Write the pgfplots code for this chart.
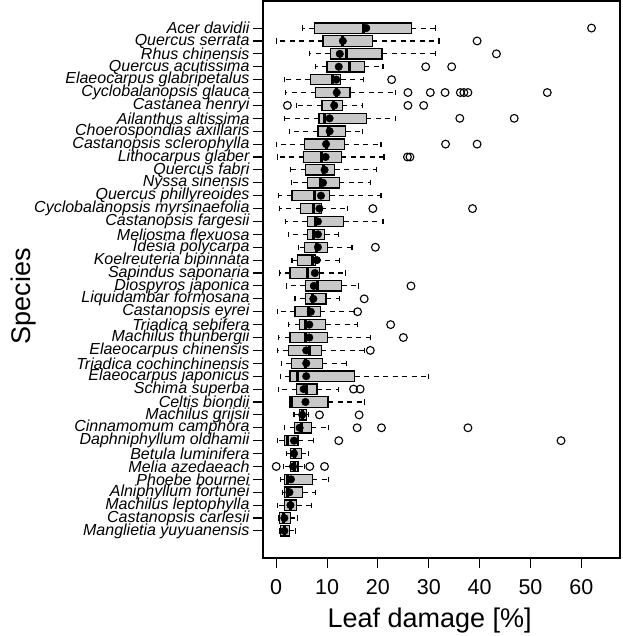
\documentclass[border=0pt]{standalone}
\usepackage{fontspec}
\setmainfont{Liberation Sans}
\usepackage{pgfplots}
\pgfplotsset{compat=1.18}
\usepgfplotslibrary{statistics}
\definecolor{boxgray}{RGB}{200,200,200}
\newcommand{\bp}[6]{\addplot[black, boxplot prepared={draw position=#1, lower whisker=#2, lower quartile=#3, median=#4, upper quartile=#5, upper whisker=#6}] coordinates {};}
\begin{document}
\begin{tikzpicture}
\begin{axis}[
  at={(0,0)}, anchor=south west,
  scale only axis, width=357pt, height=557pt,
  xmin=-2.6, xmax=67.6, ymin=-1.1, ymax=42.1,
  axis line style={line width=1.2pt},
  xtick={0,10,...,60}, ytick={1,...,40},
  xtick pos=lower, ytick pos=left,
  tick align=outside, major tick length=10pt,
  tick style={line width=1.1pt, black},
  /pgf/number format/assume math mode=true,
  xticklabel style={font=\fontsize{21.5}{24}\selectfont, yshift=-8pt},
  yticklabel style={font=\fontsize{16}{17}\selectfont\itshape},
  yticklabels={Manglietia yuyuanensis, Castanopsis carlesii, Machilus leptophylla, Alniphyllum fortunei, Phoebe bournei, Melia azedaeach, Betula luminifera, Daphniphyllum oldhamii, Cinnamomum camphora, Machilus grijsii, Celtis biondii, Schima superba, Elaeocarpus japonicus, Triadica cochinchinensis, Elaeocarpus chinensis, Machilus thunbergii, Triadica sebifera, Castanopsis eyrei, Liquidambar formosana, Diospyros japonica, Sapindus saponaria, Koelreuteria bipinnata, Idesia polycarpa, Meliosma flexuosa, Castanopsis fargesii, Cyclobalanopsis myrsinaefolia, Quercus phillyreoides, Nyssa sinensis, Quercus fabri, Lithocarpus glaber, Castanopsis sclerophylla, Choerospondias axillaris, Ailanthus altissima, Castanea henryi, Cyclobalanopsis glauca, Elaeocarpus glabripetalus, Quercus acutissima, Rhus chinensis, Quercus serrata, Acer davidii},
  xlabel={Leaf damage [\%]}, ylabel={Species},
  xlabel style={font=\fontsize{27}{30}\selectfont, at={(axis description cs:0.467,0)}, anchor=north, yshift=-46pt},
  ylabel style={font=\fontsize{27}{30}\selectfont, at={(axis description cs:-0.672,0.47)}, anchor=center, rotate=0},
  boxplot/draw direction=x,
  boxplot/box extend=0.8,
  boxplot/whisker extend=0.4,
  boxplot/every box/.style={draw=black, fill=boxgray, line width=1.2pt},
  boxplot/every median/.style={draw=black, line width=3pt},
  boxplot/draw/lower whisker/.code={%
    \draw[black, line width=1.1pt, dash pattern=on 5pt off 4.5pt] (boxplot cs:\pgfplotsboxplotvalue{lower quartile}) -- (boxplot cs:\pgfplotsboxplotvalue{lower whisker});
    \draw[black, line width=1.1pt] (boxplot whisker cs:\pgfplotsboxplotvalue{lower whisker},0) -- (boxplot whisker cs:\pgfplotsboxplotvalue{lower whisker},1);
  },
  boxplot/draw/upper whisker/.code={%
    \draw[black, line width=1.1pt, dash pattern=on 5pt off 4.5pt] (boxplot cs:\pgfplotsboxplotvalue{upper quartile}) -- (boxplot cs:\pgfplotsboxplotvalue{upper whisker});
    \draw[black, line width=1.1pt] (boxplot whisker cs:\pgfplotsboxplotvalue{upper whisker},0) -- (boxplot whisker cs:\pgfplotsboxplotvalue{upper whisker},1);
  },
]
% position, lower whisker, Q1, median, Q3, upper whisker
\bp{40}{5.1}{7.5}{17.2}{26.6}{31.3}
\bp{39}{0.0}{9.2}{13.1}{18.9}{32.0}
\bp{38}{6.6}{10.6}{13.9}{20.8}{31.3}
\bp{37}{7.7}{10.0}{14.4}{17.3}{21.0}
\bp{36}{1.7}{6.7}{11.0}{12.7}{17.1}
\bp{35}{1.8}{7.8}{11.8}{14.5}{23.5}
\bp{34}{4.0}{9.0}{11.2}{13.0}{17.0}
\bp{33}{1.7}{8.4}{9.5}{17.7}{23.5}
\bp{32}{2.6}{8.2}{10.3}{13.7}{17.0}
\bp{31}{0.0}{5.6}{9.8}{13.4}{20.6}
\bp{30}{0.2}{5.4}{9.0}{12.8}{21.2}
\bp{29}{2.8}{5.8}{9.2}{11.5}{19.7}
\bp{28}{3.0}{6.1}{8.7}{12.4}{18.6}
\bp{27}{0.4}{3.1}{7.5}{10.5}{20.6}
\bp{26}{0.65}{4.8}{7.4}{8.9}{14.0}
\bp{25}{1.8}{6.1}{7.7}{13.3}{21.0}
\bp{24}{2.5}{6.2}{7.4}{9.5}{12.2}
\bp{23}{4.3}{5.6}{8.0}{10.1}{14.9}
\bp{22}{3.1}{4.2}{7.1}{7.8}{12.4}
\bp{21}{0.65}{2.7}{6.1}{8.5}{13.6}
\bp{20}{2.0}{5.75}{8.2}{12.9}{16.2}
\bp{19}{3.7}{5.75}{7.1}{9.8}{12.5}
\bp{18}{0.2}{3.7}{6.4}{8.7}{15.4}
\bp{17}{2.5}{4.6}{5.75}{9.7}{15.9}
\bp{16}{0.5}{2.7}{5.75}{10.1}{18.6}
\bp{15}{0.3}{2.4}{6.6}{8.9}{17.3}
\bp{14}{1.0}{3.0}{5.75}{9.1}{13.9}
\bp{13}{0.85}{2.7}{4.25}{15.4}{29.9}
\bp{12}{0.5}{4.0}{5.9}{8.0}{12.3}
\bp{11}{2.6}{2.7}{3.0}{10.2}{17.3}
\bp{10}{3.5}{4.6}{5.1}{5.9}{6.3}
\bp{9}{1.6}{3.6}{5.0}{6.9}{10.2}
\bp{8}{0.2}{1.6}{2.2}{4.3}{7.4}
\bp{7}{2.0}{2.8}{3.5}{4.9}{6.4}
\bp{6}{1.5}{2.8}{3.5}{4.3}{5.6}
\bp{5}{0.85}{1.6}{2.3}{7.1}{10.2}
\bp{4}{1.2}{1.7}{2.3}{5.2}{7.8}
\bp{3}{0.2}{1.6}{2.9}{4.0}{6.9}
\bp{2}{0.5}{0.65}{1.5}{2.8}{4.25}
\bp{1}{0.65}{0.85}{1.6}{2.6}{3.8}
% means
\addplot[only marks, mark=*, mark size=3.8pt, black] coordinates {
(17.7,40) (13.1,39) (12.5,38) (12.3,37) (11.8,36) (11.9,35) (11.4,34) (10.5,33) (10.5,32) (9.8,31)
(9.7,30) (9.5,29) (9.2,28) (8.8,27) (8.5,26) (8.2,25) (8.2,24) (8.2,23) (8.0,22) (7.6,21)
(7.4,20) (7.3,19) (6.8,18) (6.5,17) (6.5,16) (5.9,15) (5.9,14) (5.9,13) (5.4,12) (5.75,11)
(5.1,10) (4.6,9) (3.5,8) (3.5,7) (3.3,6) (2.9,5) (2.6,4) (2.8,3) (1.6,2) (1.6,1)
};
% outliers
\addplot[only marks, mark=o, mark size=3.9pt, black, mark options={line width=1.1pt}] coordinates {
(62.0,40) (39.5,39) (43.3,38) (29.4,37) (34.5,37) (22.7,36)
(25.9,35) (30.3,35) (33.2,35) (36.2,35) (36.9,35) (37.7,35) (53.3,35)
(2.2,34) (25.9,34) (29.0,34) (36.1,33) (46.8,33) (33.3,31) (39.5,31) (25.8,30) (26.3,30)
(19.0,26) (38.6,26) (19.5,23) (26.5,20) (17.3,19) (16.0,18) (22.5,17) (25.0,16) (18.5,15)
(15.2,12) (16.5,12) (8.5,10) (16.3,10) (15.9,9) (20.7,9) (37.7,9) (12.3,8) (56.0,8)
(0.0,6) (6.6,6) (9.5,6)
};
\end{axis}
\pgfresetboundingbox
\useasboundingbox (-263pt,-78pt) rectangle (359pt,558pt);
\end{tikzpicture}
\end{document}
